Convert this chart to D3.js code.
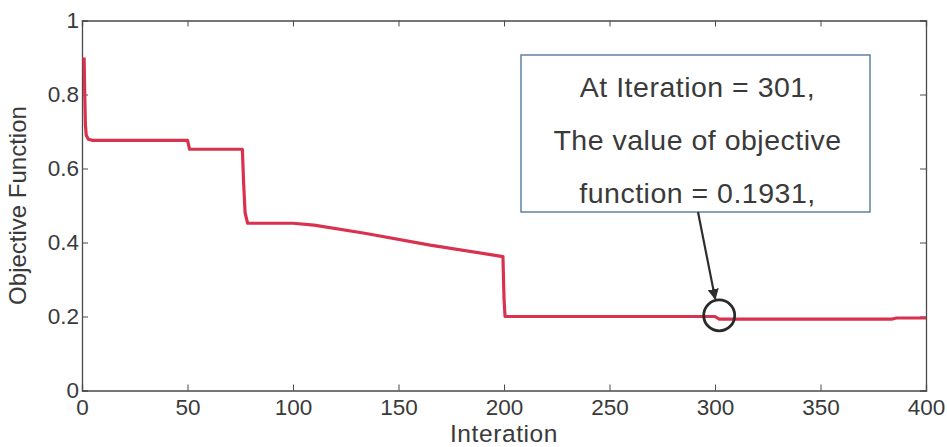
<!DOCTYPE html>
<html>
<head>
<meta charset="utf-8">
<script src="https://cdn.jsdelivr.net/npm/d3@7"></script>
<style>
  html, body { margin: 0; padding: 0; background: #fff; }
  svg { display: block; font-family: "Liberation Sans", Arial, Helvetica, sans-serif; }
</style>
</head>
<body>
<svg id="chart" width="947" height="447"></svg>
<script>
// Convergence history: iteration number and objective value at each breakpoint
const iterations = [1, 1.3, 1.6, 2, 3, 5, 50, 51, 76, 76.6, 77.3, 78.5, 100, 110, 134, 165, 199.5, 200, 200.5, 300, 302, 384, 386, 400];
const objective  = [0.90, 0.80, 0.72, 0.69, 0.679, 0.676, 0.676, 0.652, 0.652, 0.56, 0.48, 0.452, 0.452, 0.447, 0.425, 0.393, 0.362, 0.25, 0.200, 0.200, 0.1931, 0.1931, 0.196, 0.196];

const xTicks = [0, 50, 100, 150, 200, 250, 300, 350, 400];
const yTicks = [0, 0.2, 0.4, 0.6, 0.8, 1];

// Highlighted optimum and its note
const markIter = 302;
const markValue = 0.203;
const noteLines = ["At Iteration = 301,", "The value of objective", "function = 0.1931,"];

const svg = d3.select("#chart");
const m = { left: 82, right: 21, top: 20.5, bottom: 56.5 };
const W = 947, H = 447;

const x = d3.scaleLinear().domain([0, 400]).range([m.left, W - m.right]);
const y = d3.scaleLinear().domain([0, 1]).range([H - m.bottom, m.top]);

const axisColor = "#4a4a4a";
const textColor = "#3a3a3a";
const tickLen = 6;

// Axes: boxed frame with inward ticks on all four sides
const gx = svg.append("g").attr("transform", `translate(0,${y(0)})`)
  .call(d3.axisBottom(x).tickValues(xTicks).tickSize(-tickLen).tickPadding(9).tickFormat(d3.format("d")));
const gxTop = svg.append("g").attr("transform", `translate(0,${y(1)})`)
  .call(d3.axisTop(x).tickValues(xTicks).tickSize(-tickLen).tickFormat(""));
const gy = svg.append("g").attr("transform", `translate(${x(0)},0)`)
  .call(d3.axisLeft(y).tickValues(yTicks).tickSize(-tickLen).tickPadding(3).tickFormat(d => d === 0 || d === 1 ? d3.format("d")(d) : d3.format(".1f")(d)));
const gyRight = svg.append("g").attr("transform", `translate(${x(400)},0)`)
  .call(d3.axisRight(y).tickValues(yTicks).tickSize(-tickLen).tickFormat(""));

[gx, gxTop, gy, gyRight].forEach(g => {
  g.select(".domain").attr("stroke", axisColor).attr("stroke-width", 1.3);
  g.selectAll(".tick line").attr("stroke", axisColor).attr("stroke-width", 1);
  g.selectAll(".tick text").attr("fill", textColor).attr("font-size", 22.5)
    .attr("font-family", "'Liberation Sans', Arial, sans-serif");
});
// No tick marks where the ticks sit on the frame corners
gx.selectAll(".tick").filter(d => d === 0 || d === 400).select("line").remove();
gxTop.selectAll(".tick").filter(d => d === 0 || d === 400).select("line").remove();
gy.selectAll(".tick").filter(d => d === 0 || d === 1).select("line").remove();
gyRight.selectAll(".tick").filter(d => d === 0 || d === 1).select("line").remove();

// Objective curve
const line = d3.line().x((d, i) => x(iterations[i])).y(d => y(d));
svg.append("path")
  .datum(objective)
  .attr("d", line)
  .attr("fill", "none")
  .attr("stroke", "#d8324e")
  .attr("stroke-width", 3.2)
  .attr("stroke-linejoin", "round");

// Axis titles
svg.append("text")
  .attr("x", (x(0) + x(400)) / 2)
  .attr("y", 442)
  .attr("text-anchor", "middle")
  .attr("font-size", 24.5)
  .attr("letter-spacing", 0.6)
  .attr("fill", textColor)
  .text("Interation");

svg.append("text")
  .attr("transform", `translate(26,${(y(0) + y(1)) / 2}) rotate(-90)`)
  .attr("text-anchor", "middle")
  .attr("font-size", 24)
  .attr("fill", textColor)
  .text("Objective Function");

// Note box with arrow pointing at the circled optimum
const box = { x0: 521, y0: 55, x1: 870, y1: 212 };
svg.append("rect")
  .attr("x", box.x0).attr("y", box.y0)
  .attr("width", box.x1 - box.x0).attr("height", box.y1 - box.y0)
  .attr("fill", "#fff")
  .attr("stroke", "#55799a")
  .attr("stroke-width", 1.4);

const baselines = [97, 150, 203];
noteLines.forEach((t, i) => {
  svg.append("text")
    .attr("x", (box.x0 + box.x1) / 2 + 2)
    .attr("y", baselines[i])
    .attr("text-anchor", "middle")
    .attr("font-size", 28.5)
    .attr("letter-spacing", 0.5)
    .attr("fill", textColor)
    .text(t);
});

const cx = x(markIter), cy = y(markValue), r = 15.5;

svg.append("defs").append("marker")
  .attr("id", "arrowhead")
  .attr("viewBox", "0 0 10 10")
  .attr("refX", 9).attr("refY", 5)
  .attr("markerWidth", 5).attr("markerHeight", 5)
  .attr("markerUnits", "strokeWidth")
  .attr("orient", "auto")
  .append("path")
  .attr("d", "M0,0 L10,5 L0,10 Z")
  .attr("fill", "#2e2e2e");

svg.append("line")
  .attr("x1", 698).attr("y1", box.y1)
  .attr("x2", cx - 4).attr("y2", cy - r - 1)
  .attr("stroke", "#2e2e2e")
  .attr("stroke-width", 2.2)
  .attr("marker-end", "url(#arrowhead)");

svg.append("circle")
  .attr("cx", cx).attr("cy", cy).attr("r", r)
  .attr("fill", "none")
  .attr("stroke", "#2a2a2a")
  .attr("stroke-width", 2.8);
</script>
</body>
</html>
